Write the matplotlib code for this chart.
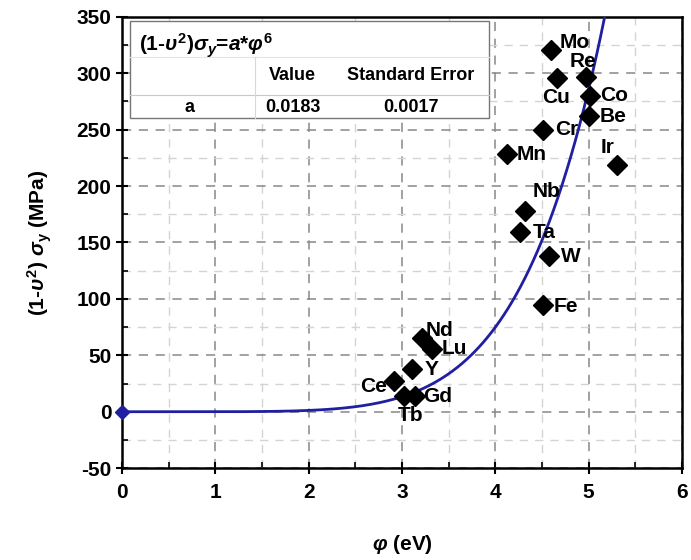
import numpy as np
import matplotlib.pyplot as plt
from matplotlib.patches import Rectangle
from matplotlib.ticker import MultipleLocator

plt.rcParams['font.family'] = 'Liberation Sans'
plt.rcParams['font.weight'] = 'bold'
plt.rcParams['axes.unicode_minus'] = False
plt.rcParams['mathtext.fontset'] = 'custom'
plt.rcParams['mathtext.rm'] = 'Liberation Sans:bold'
plt.rcParams['mathtext.it'] = 'Liberation Sans:italic:bold'
plt.rcParams['mathtext.bf'] = 'Liberation Sans:bold'

# work function (eV) and reduced yield stress (MPa) per element
elements = ['Mo', 'Re', 'Cu', 'Co', 'Be', 'Cr', 'Mn', 'Ir', 'Nb', 'Ta', 'W', 'Fe',
            'Nd', 'Lu', 'Y', 'Ce', 'Tb', 'Gd']
phi = [4.60, 4.97, 4.66, 5.01, 5.00, 4.51, 4.12, 5.30, 4.32, 4.26, 4.57, 4.51,
       3.21, 3.32, 3.11, 2.91, 3.02, 3.14]
stress = [321, 297, 296, 280, 262, 250, 228, 219, 178, 159, 138, 95,
          65, 56, 38, 27, 14, 14]
# label offsets in pixels (left edge / vertical centre of the text)
offsets = [(8, 7), (-16, 15), (-15, -20), (11, 0), (11, 0), (12, 0), (10, 0),
           (-16, 17), (7, 19), (13, 0), (12, 0), (11, -2),
           (4, 8), (10, 0), (12, -1), (-33, -5), (-6, -20), (8, -1)]

# fit  (1-v^2) sigma_y = a * phi^6
a_fit = 0.0183
a_err = 0.0017
n_exp = 6

fig = plt.figure(figsize=(6.91, 5.6), dpi=100)
ax = fig.add_axes([0.1766, 0.164, 0.8104, 0.806])

xs = np.linspace(0, 6, 400)
ax.plot(xs, a_fit * xs ** n_exp, color='#1f1fa0', lw=2, zorder=3)
ax.plot([0], [0], marker='D', color='#1f1fa0', ms=7, clip_on=False, zorder=4)

ax.plot(phi, stress, 'D', color='black', ms=10, zorder=5)
for name, x, y, (dx, dy) in zip(elements, phi, stress, offsets):
    ax.annotate(name, (x, y), xytext=(dx * 0.72, dy * 0.72), textcoords='offset points',
                fontsize=15, fontweight='bold', va='center', ha='left', zorder=6)

ax.set_xlim(0, 6)
ax.set_ylim(-50, 350)
ax.xaxis.set_major_locator(MultipleLocator(1))
ax.xaxis.set_minor_locator(MultipleLocator(0.5))
ax.yaxis.set_major_locator(MultipleLocator(50))
ax.yaxis.set_minor_locator(MultipleLocator(25))
ax.tick_params(which='major', direction='inout', length=8, width=1.5, labelsize=15)
ax.tick_params(axis='x', which='major', pad=7)
ax.tick_params(which='minor', direction='in', length=4, width=1.2)
for s in ax.spines.values():
    s.set_linewidth(1.8)

ax.grid(which='major', ls=(0, (6, 5)), color='#888888', lw=1.1)
ax.grid(which='minor', ls=(0, (6, 5)), color='#d4d4d4', lw=1.0)
ax.set_axisbelow(True)

ax.set_xlabel(r'$\varphi$ (eV)', fontsize=15, fontweight='bold', labelpad=22)
ax.set_ylabel(r'(1-$\upsilon^2$) $\sigma_\mathrm{y}$ (MPa)', fontsize=15, fontweight='bold',
              labelpad=16)

# fit result box
ax.add_patch(Rectangle((0.014, 0.776), 0.641, 0.215, transform=ax.transAxes,
                       facecolor='white', edgecolor='#777777', lw=1.0, zorder=7))
ax.plot([0.014, 0.655], [0.827, 0.827], transform=ax.transAxes, color='#c8c8c8',
        lw=0.8, zorder=8)
ax.plot([0.014, 0.655], [0.91, 0.91], transform=ax.transAxes, color='#e4e4e4',
        lw=0.8, zorder=8)
ax.plot([0.2375, 0.2375], [0.776, 0.91], transform=ax.transAxes, color='#d8d8d8',
        lw=0.8, zorder=8)
ax.text(0.03, 0.935, r'$(1$-$\upsilon^2)\sigma_y$=$a$*$\varphi^6$', transform=ax.transAxes,
        fontsize=15, va='center', ha='left', zorder=9)
ax.text(0.305, 0.87, 'Value', transform=ax.transAxes, fontsize=13, ha='center',
        va='center', zorder=9)
ax.text(0.516, 0.87, 'Standard Error', transform=ax.transAxes, fontsize=13,
        ha='center', va='center', zorder=9)
ax.text(0.121, 0.80, 'a', transform=ax.transAxes, fontsize=13, ha='center',
        va='center', zorder=9)
ax.text(0.305, 0.80, f'{a_fit:.4f}', transform=ax.transAxes, fontsize=13,
        ha='center', va='center', zorder=9)
ax.text(0.516, 0.80, f'{a_err:.4f}', transform=ax.transAxes, fontsize=13,
        ha='center', va='center', zorder=9)

fig.savefig('out.png', dpi=100)
